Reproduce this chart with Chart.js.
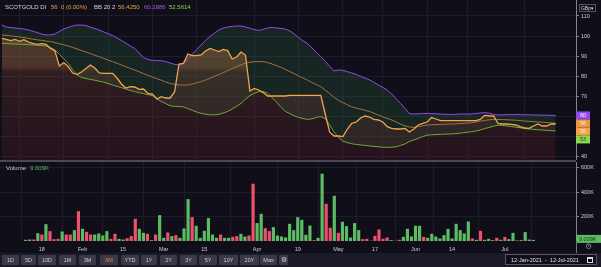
<!DOCTYPE html>
<html>
<head>
<meta charset="utf-8">
<script src="https://cdn.jsdelivr.net/npm/chart.js@4"></script>
<style>
  body { margin: 0; background: #0f0e19; }
  #wrap { position: relative; width: 601px; height: 267px; overflow: hidden; background: #0f0e19;
          font-family: "Liberation Sans", Arial, sans-serif; }
  canvas { position: absolute; left: 0; }
  #c1 { top: 0; }
  #c2 { top: 162px; }
  .t { position: absolute; white-space: nowrap; font-size: 6px; line-height: 8px; }
  .sep { position: absolute; left: 0; top: 160px; width: 576px; height: 2px; background: #4a4956; }
  .vline { position: absolute; left: 576px; top: 241px; width: 1px; height: 12px; background: #777; }
  #bar { position: absolute; left: 0; top: 253px; width: 601px; height: 14px; background: #1b1a27; }
  .btn { position: absolute; top: 2px; height: 10px; line-height: 10px; background: #3a3946; color: #cfcfd4;
         font-size: 5.5px; text-align: center; border-radius: 1px; }
  #dates { position: absolute; left: 505px; top: 1px; width: 92px; height: 11px; border: 1px solid #55545f;
           background: #0f0e19; color: #e6e6e6; font-size: 5.5px; line-height: 11px; padding-left: 5px; box-sizing: border-box; }
</style>
</head>
<body>
<div id="wrap">
  <canvas id="c1" width="601" height="160"></canvas>
  <div class="sep"></div>
  <canvas id="c2" width="601" height="92"></canvas>
  <div class="vline"></div>

  <span class="t" style="left:5px;top:3px;color:#d6d6da">SCOTGOLD DI</span>
  <span class="t" style="left:51px;top:3px;color:#f0a048">56&nbsp;&nbsp;0 (0.00%)</span>
  <span class="t" style="left:94px;top:3px;color:#d6d6da">BB 20 2</span>
  <span class="t" style="left:118px;top:3px;color:#f0a048">56.4250</span>
  <span class="t" style="left:144px;top:3px;color:#9a62e8">60.2886</span>
  <span class="t" style="left:169px;top:3px;color:#8fd14f">52.5614</span>
  <span class="t" style="left:579px;top:4px;height:8px;width:17px;border:1px solid #55545f;box-sizing:border-box;color:#ddd;font-size:5px;line-height:7px;text-align:center">GBp&#9662;</span>

  <span class="t" style="left:6px;top:164px;color:#c8c8cc">Volume</span>
  <span class="t" style="left:30px;top:164px;color:#5dbb63">9.009K</span>

  <span class="t" style="left:585px;top:243px;color:#888;font-size:8px">&#9881;</span>

  <div id="bar">
    <div id="btns"></div>
    <div id="dates">12-Jan-2021&nbsp;&nbsp;-&nbsp;&nbsp;12-Jul-2021<span style="position:absolute;right:3px;top:2px;width:6px;height:6px;border:1px solid #ddd;box-sizing:border-box;border-top-width:2px"></span></div>
  </div>
</div>
<script>
const dates = [
  '12 Jan','13 Jan','14 Jan','15 Jan','18 Jan','19 Jan','20 Jan','21 Jan','22 Jan','25 Jan','26 Jan','27 Jan','28 Jan','29 Jan',
  '1 Feb','2 Feb','3 Feb','4 Feb','5 Feb','8 Feb','9 Feb','10 Feb','11 Feb','12 Feb','15 Feb','16 Feb','17 Feb','18 Feb','19 Feb',
  '22 Feb','23 Feb','24 Feb','25 Feb','26 Feb',
  '1 Mar','2 Mar','3 Mar','4 Mar','5 Mar','8 Mar','9 Mar','10 Mar','11 Mar','12 Mar','15 Mar','16 Mar','17 Mar','18 Mar','19 Mar',
  '22 Mar','23 Mar','24 Mar','25 Mar','26 Mar','29 Mar','30 Mar','31 Mar',
  '1 Apr','6 Apr','7 Apr','8 Apr','9 Apr','12 Apr','13 Apr','14 Apr','15 Apr','16 Apr','19 Apr','20 Apr','21 Apr','22 Apr','23 Apr',
  '26 Apr','27 Apr','28 Apr','29 Apr','30 Apr',
  '4 May','5 May','6 May','7 May','10 May','11 May','12 May','13 May','14 May','17 May','18 May','19 May','20 May','21 May',
  '24 May','25 May','26 May','27 May','28 May',
  '1 Jun','2 Jun','3 Jun','4 Jun','7 Jun','8 Jun','9 Jun','10 Jun','11 Jun','14 Jun','15 Jun','16 Jun','17 Jun','18 Jun',
  '21 Jun','22 Jun','23 Jun','24 Jun','25 Jun','28 Jun','29 Jun','30 Jun',
  '1 Jul','2 Jul','5 Jul','6 Jul','7 Jul','8 Jul','9 Jul','12 Jul'
];

const price = [
  98.8, 98.3, 97.7, 98.3, 97.3, 98.2, 97.0, 96.3, 95.8, 96.2, 95.8, 93.8, 92.5, 85.0, 86.7, 84.7, 81.5, 80.8, 82.0, 83.8,
  85.5, 84.0, 81.5, 81.3, 81.3, 81.3, 79.0, 76.0, 74.0, 74.7, 74.5, 73.3, 73.5, 71.3, 71.0, 68.5, 69.7, 69.0, 69.0, 72.0,
  86.0, 86.3, 91.0, 90.2, 90.2, 90.5, 92.5, 93.8, 93.0, 92.2, 93.3, 92.7, 88.5, 89.5, 92.0, 90.5, 72.5, 73.8, 73.0, 71.7,
  70.0, 70.0, 70.0, 70.0, 70.0, 70.3, 70.3, 70.3, 70.3, 70.3, 70.3, 70.3, 70.3, 61.0, 52.0, 50.0, 50.0, 49.7, 53.5, 56.3,
  57.0, 59.0, 60.0, 59.5, 58.3, 58.0, 57.0, 54.7, 53.8, 53.5, 53.5, 53.8, 52.0, 53.5, 55.5, 56.3, 57.0, 59.2, 58.5, 57.7,
  57.7, 57.7, 57.7, 57.7, 57.7, 57.7, 57.7, 57.7, 58.3, 60.3, 60.0, 60.0, 56.3, 56.0, 56.0, 55.8, 55.5, 54.7, 54.0, 53.8,
  55.0, 56.0, 55.0, 55.0, 56.0, 56.0
];

const bbUpper = [
  105.5, 104.5, 104.2, 104.0, 103.8, 103.5, 103.0, 102.4, 101.7, 101.0, 100.5, 100.6, 101.0, 102.3, 103.5, 104.3, 105.0, 105.5, 105.5, 105.2,
  104.4, 103.7, 103.0, 102.0, 101.2, 100.2, 99.0, 97.8, 96.5, 95.0, 93.8, 91.5, 89.2, 88.3, 87.8, 87.7, 87.7, 87.2, 86.5, 85.8,
  85.6, 86.2, 88.5, 91.0, 93.2, 95.5, 97.8, 99.7, 101.5, 103.0, 104.0, 104.5, 104.8, 105.0, 105.0, 104.5, 103.9, 103.2, 102.8, 103.3,
  104.0, 104.3, 104.0, 103.8, 103.4, 102.6, 101.0, 99.2, 97.5, 96.3, 94.0, 91.8, 89.7, 87.4, 84.8, 82.6, 83.0, 82.8, 82.2, 81.5,
  80.8, 79.8, 78.9, 78.1, 76.8, 75.5, 74.3, 73.0, 71.0, 68.6, 66.3, 63.8, 61.2, 61.0, 61.1, 61.2, 61.3, 61.2, 61.1, 61.0,
  60.9, 60.8, 60.8, 60.9, 61.0, 61.0, 61.0, 61.3, 61.5, 61.7, 61.4, 60.8, 60.5, 60.6, 60.7, 60.7, 60.7, 60.7, 60.6, 60.6,
  60.5, 60.5, 60.4, 60.4, 60.3, 60.29
];

const bbMiddle = [
  100.5, 100.3, 100.1, 99.8, 99.5, 99.2, 98.8, 98.4, 98.1, 97.8, 97.5, 97.2, 96.7, 96.1, 95.6, 95.0, 94.3, 93.5, 92.7, 92.0,
  91.2, 90.4, 89.6, 88.8, 88.0, 87.2, 86.4, 85.5, 84.6, 83.8, 83.0, 82.1, 81.2, 80.3, 79.5, 78.7, 77.9, 77.0, 76.3, 75.8,
  75.5, 75.5, 75.5, 76.0, 76.6, 77.2, 78.0, 78.9, 79.8, 80.7, 81.7, 82.7, 83.7, 84.7, 85.6, 86.4, 86.9, 87.2, 87.2, 87.2,
  86.7, 86.0, 85.2, 84.4, 83.3, 82.2, 81.2, 80.0, 79.0, 77.9, 76.8, 75.7, 74.7, 72.9, 71.2, 69.3, 67.8, 66.7, 65.6, 64.6,
  64.0, 63.4, 62.8, 62.3, 61.4, 60.5, 59.6, 58.8, 58.0, 57.0, 56.0, 55.0, 54.5, 54.3, 54.7, 55.1, 55.5, 55.6, 55.7, 55.8,
  55.9, 56.0, 56.0, 56.2, 56.3, 56.5, 56.7, 57.0, 57.4, 57.8, 58.1, 58.3, 58.3, 58.2, 58.1, 58.0, 57.9, 57.7, 57.5, 57.3,
  57.2, 57.0, 56.9, 56.7, 56.5, 56.425
];

const bbLower = [
  96.3, 96.2, 96.1, 96.0, 95.9, 95.8, 95.7, 95.5, 95.4, 95.2, 95.0, 94.3, 93.0, 90.8, 88.5, 86.3, 83.0, 80.5, 79.3, 78.7,
  78.3, 77.9, 77.4, 76.9, 76.2, 75.5, 74.8, 74.2, 73.5, 72.8, 72.2, 71.7, 71.2, 70.7, 70.2, 68.7, 67.2, 66.2, 65.1, 64.8,
  64.7, 64.6, 63.7, 62.8, 62.0, 61.3, 60.9, 60.6, 60.6, 60.8, 61.5, 62.3, 63.5, 64.8, 66.3, 68.4, 70.2, 71.3, 72.2, 72.2,
  71.4, 69.2, 67.0, 64.4, 62.3, 61.2, 60.1, 59.3, 58.7, 58.3, 58.6, 59.3, 59.7, 58.8, 55.5, 51.9, 49.3, 47.4, 46.7, 46.1,
  45.8, 45.5, 45.3, 45.0, 44.8, 44.6, 44.4, 44.3, 44.4, 44.6, 45.3, 46.0, 47.3, 48.0, 48.8, 49.7, 50.4, 50.6, 50.7, 50.8,
  50.9, 51.0, 51.1, 51.3, 51.6, 51.9, 52.1, 52.5, 53.0, 53.7, 54.3, 54.9, 55.4, 55.3, 55.0, 54.7, 54.4, 54.1, 53.8, 53.5,
  53.3, 53.1, 53.0, 52.8, 52.7, 52.5614
];

// volume in thousands
const volume = [
  10, 12, 12, 64, 53, 138, 81, 15, 18, 78, 53, 53, 89, 245, 100, 75, 53, 53, 62, 45,
  81, 18, 59, 18, 12, 23, 40, 182, 100, 67, 59, 7, 53, 212, 26, 70, 40, 48, 26, 103,
  344, 196, 125, 26, 84, 188, 53, 26, 53, 26, 26, 34, 40, 59, 37, 45, 470, 147, 223, 105,
  81, 114, 45, 37, 29, 141, 89, 196, 174, 51, 127, 7, 26, 552, 305, 108, 371, 67, 158, 122,
  29, 147, 89, 15, 18, 2, 42, 95, 18, 29, 7, 2, 10, 34, 100, 37, 125, 125, 34, 26,
  59, 37, 21, 48, 100, 21, 141, 89, 62, 160, 21, 10, 84, 10, 18, 7, 26, 10, 34, 15,
  67, 5, 7, 73, 12, 9.009
];
// 1 = up day (green bar), 0 = down day (red bar)
const volUp = [
  1, 1, 0, 1, 0, 1, 0, 0, 0, 1, 0, 0, 1, 0, 1, 0, 0, 1, 1, 1,
  1, 0, 0, 1, 1, 0, 0, 0, 1, 1, 0, 1, 0, 1, 1, 0, 1, 0, 1, 1,
  1, 0, 1, 1, 1, 1, 1, 1, 0, 1, 1, 0, 0, 1, 1, 0, 0, 1, 1, 0,
  0, 1, 1, 1, 1, 1, 1, 1, 1, 1, 1, 0, 1, 1, 0, 0, 1, 0, 1, 1,
  1, 1, 1, 0, 0, 1, 0, 0, 0, 0, 1, 1, 0, 1, 1, 1, 1, 1, 0, 1,
  1, 1, 1, 1, 1, 1, 1, 1, 1, 1, 0, 1, 0, 1, 1, 1, 0, 1, 0, 1,
  1, 0, 1, 1, 1, 1
];

const tickIdx = [4, 14, 24, 34, 44, 57, 67, 77, 86, 96, 105, 118];
const tickText = ['18', 'Feb', '15', 'Mar', '15', 'Apr', '19', 'May', '17', 'Jun', '14', 'Jul'];
const priceTicks = [40, 50, 60, 70, 80, 90, 100, 110];
const volTicks = [200, 400, 600];
const rangeButtons = ['1D', '5D', '10D', '1M', '3M', '6M', 'YTD', '1Y', '2Y', '3Y', '5Y', '10Y', '20Y', 'Max'];

const C = {
  bg: '#0f0e19', grid: '#1d1c2b', axis: '#85848e', text: '#cfcfd4',
  price: '#f2a44c', upper: '#8e4ee8', middle: '#a8713c', lower: '#6ea83c',
  volUp: '#5dbb63', volDown: '#ef506d'
};

const pts = arr => arr.map((v, i) => ({ x: i, y: v }));
const X_MIN = -0.4, X_MAX = 129.6;
const axisFont = { family: 'Liberation Sans', size: 5.5 };

function rightAxis(scale) {
  scale.width = 25;
  scale.paddingTop = 0;
  scale.paddingBottom = 0;
}

// value boxes on the right axis
const tagPlugin = {
  id: 'tags',
  afterDraw(chart, args, opts) {
    const y = chart.scales.y, ctx = chart.ctx;
    const tags = opts.tags.map(t => ({ ...t, py: y.getPixelForValue(t.v) }))
      .sort((a, b) => a.py - b.py);
    const h = 8;
    let last = -1e9;
    ctx.save();
    ctx.font = '5.5px "Liberation Sans"';
    ctx.textBaseline = 'middle';
    tags.forEach(t => {
      let top = Math.max(t.py - h / 2, last);
      last = top + h;
      ctx.fillStyle = t.bg;
      ctx.fillRect(y.left, top, opts.w || 14, h);
      ctx.fillStyle = t.fg;
      ctx.fillText(t.text, y.left + 4, top + h / 2 + 0.5);
    });
    ctx.restore();
  }
};

const n = price.length - 1;

new Chart(document.getElementById('c1'), {
  type: 'line',
  data: {
    datasets: [
      {
        data: pts(price), borderColor: C.price, borderWidth: 1.3, pointRadius: 0, order: 0,
        fill: 'start',
        backgroundColor: (ctx) => {
          const a = ctx.chart.chartArea;
          if (!a) return 'rgba(0,0,0,0)';
          const g = ctx.chart.ctx.createLinearGradient(0, a.top, 0, a.bottom);
          g.addColorStop(0, 'rgba(175,118,72,0.44)');
          g.addColorStop(0.42, 'rgba(165,108,66,0.40)');
          g.addColorStop(0.45, 'rgba(125,68,52,0.30)');
          g.addColorStop(1, 'rgba(85,28,38,0.30)');
          return g;
        }
      },
      { data: pts(bbUpper), borderColor: C.upper, borderWidth: 1, pointRadius: 0, order: 1,
        fill: { target: 3 }, backgroundColor: 'rgba(45,90,60,0.32)' },
      { data: pts(bbMiddle), borderColor: C.middle, borderWidth: 1, pointRadius: 0, order: 2, fill: false },
      { data: pts(bbLower), borderColor: C.lower, borderWidth: 1, pointRadius: 0, order: 3, fill: false }
    ]
  },
  options: {
    responsive: false, animation: false, events: [],
    layout: { padding: 0 },
    plugins: {
      legend: { display: false }, tooltip: { enabled: false },
      filler: { drawTime: 'beforeDatasetsDraw' },
      tags: {
        tags: [
          { v: bbUpper[n], text: Math.round(bbUpper[n]) + '', bg: '#9147f5', fg: '#ffffff' },
          { v: price[n], text: Math.round(price[n]) + '', bg: '#f5a04a', fg: '#fff4e6' },
          { v: bbMiddle[n], text: Math.round(bbMiddle[n]) + '', bg: '#e8963f', fg: '#fff4e6' },
          { v: bbLower[n], text: Math.round(bbLower[n]) + '', bg: '#8fd64c', fg: '#1c3a10' }
        ]
      }
    },
    scales: {
      x: {
        type: 'linear', min: X_MIN, max: X_MAX,
        ticks: { display: false },
        grid: { color: C.grid, drawTicks: false },
        border: { display: false },
        afterBuildTicks: s => { s.ticks = tickIdx.map(v => ({ value: v })); },
        afterFit: s => { s.height = 0; }
      },
      y: {
        position: 'right', min: 38, max: 118,
        afterBuildTicks: s => { s.ticks = priceTicks.map(v => ({ value: v })); },
        afterFit: rightAxis,
        ticks: { color: C.text, font: axisFont, padding: 2 },
        grid: { color: C.grid, tickColor: C.axis, tickLength: 3 },
        border: { color: C.axis }
      }
    }
  },
  plugins: [tagPlugin]
});

const volPlugin = {
  id: 'voltag',
  afterDraw(chart) {
    const y = chart.scales.y, ctx = chart.ctx;
    const py = y.getPixelForValue(volume[n]);
    ctx.save();
    ctx.fillStyle = C.volUp;
    ctx.fillRect(y.left, py - 5, 25, 8);
    ctx.fillStyle = '#123a14';
    ctx.font = '5.5px "Liberation Sans"';
    ctx.textBaseline = 'middle';
    ctx.fillText(volume[n].toFixed(3) + 'K', y.left + 3, py - 0.5);
    ctx.restore();
  }
};

new Chart(document.getElementById('c2'), {
  type: 'bar',
  data: {
    datasets: [{
      data: pts(volume),
      backgroundColor: volUp.map(u => u ? C.volUp : C.volDown),
      barPercentage: 0.78, categoryPercentage: 1
    }]
  },
  options: {
    responsive: false, animation: false, events: [],
    layout: { padding: 0 },
    plugins: { legend: { display: false }, tooltip: { enabled: false } },
    scales: {
      x: {
        type: 'linear', min: X_MIN, max: X_MAX,
        afterBuildTicks: s => { s.ticks = tickIdx.map(v => ({ value: v })); },
        afterFit: s => { s.height = 13; },
        ticks: {
          color: C.text, font: axisFont, padding: 5, maxRotation: 0, autoSkip: false,
          callback: v => tickText[tickIdx.indexOf(v)]
        },
        grid: { color: C.grid, drawTicks: false },
        border: { display: false }
      },
      y: {
        position: 'right', min: 0, max: 648,
        afterBuildTicks: s => { s.ticks = volTicks.map(v => ({ value: v })); },
        afterFit: rightAxis,
        ticks: { color: C.text, font: axisFont, padding: 2, callback: v => v + 'K' },
        grid: { color: C.grid, tickColor: C.axis, tickLength: 3 },
        border: { color: C.axis }
      }
    }
  },
  plugins: [volPlugin]
});

// range buttons
const btnLeft = [2, 21, 38, 59, 79, 100, 121, 141, 160, 180, 199, 219, 240, 260];
const btnW = [17, 15, 18, 17, 17, 18, 18, 16, 17, 17, 18, 19, 19, 17];
const box = document.getElementById('btns');
rangeButtons.forEach((b, i) => {
  const d = document.createElement('div');
  d.className = 'btn';
  d.textContent = b;
  d.style.left = btnLeft[i] + 'px';
  d.style.width = btnW[i] + 'px';
  if (b === '6M') d.style.color = '#e8843c';
  box.appendChild(d);
});
const g = document.createElement('div');
g.className = 'btn';
g.style.left = '279px'; g.style.width = '9px'; g.style.fontSize = '7px';
g.innerHTML = '&#9881;';
box.appendChild(g);
</script>
</body>
</html>
